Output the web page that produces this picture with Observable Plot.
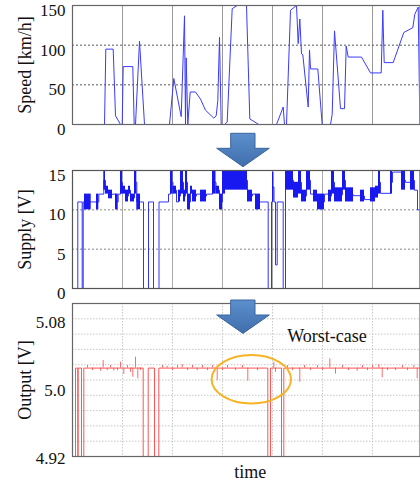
<!DOCTYPE html>
<html>
<head>
<meta charset="utf-8">
<script src="https://cdn.jsdelivr.net/npm/d3@7"></script>
<script src="https://cdn.jsdelivr.net/npm/@observablehq/plot@0.6"></script>
<style>
  html, body { margin: 0; padding: 0; background: #fff; }
  #wrap { position: relative; width: 420px; height: 485px; overflow: hidden; font-family: "Liberation Serif", serif; }
  #wrap > svg { position: absolute; left: 0; }
</style>
</head>
<body>
<div id="wrap"></div>
<script>
// ---------- shared time grid ----------
const timeDomain = [0, 347.5];
const gridTimes = [50, 100, 150, 200, 250, 300];

// ---------- Speed [km/h] ----------
const speedT = [0, 32, 33.3, 40.7, 43, 48, 49.7, 50.7, 60.3, 61.7, 63, 67, 72, 97, 101.3, 108.7, 112, 113, 113.7, 115.3,
  117.7, 123, 128, 133, 141.3, 143.7, 145.3, 147, 148.7, 152, 154.7, 159.7, 164.7, 174, 177.3, 186.3, 204, 210.7, 212,
  214, 218, 224, 225.7, 227.3, 229, 230.3, 235.7, 237, 238, 245.3, 249.7, 258, 259.7, 262, 268, 272, 273.7, 275.7,
  289, 298, 308.7, 310.3, 311.7, 320.7, 331.3, 340.3, 342.3, 345.7, 347.4];
const speedV = [0, 0, 95, 95, 11, 0, 0, 73, 73, 0, 0, 105, 0, 0, 58, 10, 137, 0, 84, 0,
  41, 41, 32, 18, 8, 11, 30, 110, 0, 0, 3, 146, 150, 150, 7, 0, 0, 22, 0,
  0, 144, 150, 102, 133, 89, 88, 22, 94, 70, 70, 0, 0, 13, 118, 20, 20, 99, 85,
  85, 65, 65, 144, 78, 78, 116, 122, 139, 148, 0];
const speedTicks = [0, 50, 100, 150];
const speedGrid = [50, 100];

// ---------- Supply [V] : segments (start, end, low, high) ----------
const supplyStart = [0, 5.3, 9.7, 10.7, 12, 18.7, 24, 26.3, 31.3, 33, 36, 40, 43, 45.7, 48, 50, 53, 56, 58, 62, 64.3,
  68, 71, 76, 81, 86.5, 96, 98, 100.5, 104, 106, 108, 111, 113, 115, 118, 120, 124, 128, 134, 140, 143.5, 147, 150,
  153, 175, 180, 183, 188, 195.7, 199, 200, 201.5, 203, 204.7, 210.7, 213, 221, 226, 229, 234, 238, 241, 245, 252,
  256, 259, 262, 270, 273, 281, 288, 292, 298, 303, 306, 308, 318, 320, 329, 333, 338, 342, 345];
const supplyEnd = [5.3, 9.7, 10.7, 12, 18.7, 24, 26.3, 31.3, 33, 36, 40, 43, 45.7, 48, 50, 53, 56, 58, 62, 64.3, 68,
  71, 76, 81, 86.5, 96, 98, 100.5, 104, 106, 108, 111, 113, 115, 118, 120, 124, 128, 134, 140, 143.5, 147, 150, 153,
  175, 180, 183, 188, 195.7, 199, 200, 201.5, 203, 204.7, 210.7, 213, 221, 226, 229, 234, 238, 241, 245, 252, 256,
  259, 262, 270, 273, 281, 288, 292, 298, 303, 306, 308, 318, 320, 329, 333, 338, 342, 345, 347.5];
const supplyLow = [0, 11, 0, 11, 10, 11, 10, 12, 12.5, 12, 11.4, 12, 10, 12, 12, 12, 11, 12, 11, 12, 10,
  11, 0, 11, 0, 11, 12, 12, 12, 11, 11, 12, 11, 12, 10, 12, 11, 12, 11, 12, 12, 12, 10, 12,
  12.5, 11, 12, 10, 11, 0, 11, 11, 11, 3, 11, 0, 12.5, 11.5, 12, 11, 12.5, 12, 11, 10, 12,
  11, 12, 11, 12.5, 11, 11.8, 11, 11.3, 11, 11.5, 12, 12.1, 12, 14.8, 12.5, 13.5, 12.5, 12.5, 10];
const supplyHigh = [0, 11, 0, 11, 12, 11, 12, 12, 15, 13, 12.5, 12, 12, 12, 15, 13, 12.5, 13, 12, 15, 12,
  11, 0, 11, 0, 11, 12, 15, 13, 11, 12.5, 15, 12.5, 15, 12, 13, 12.5, 12, 12.5, 12, 15, 13, 12, 15,
  15, 12.5, 12, 12, 11, 0, 11, 14.8, 11, 3, 11, 0, 15, 13.5, 15, 12.5, 15, 12, 12.5, 12, 12,
  12.5, 15, 12.8, 15, 12.8, 11.8, 12.5, 11.3, 12.8, 13, 15, 12.1, 15, 14.8, 15, 13.5, 15, 12.5, 10];
const supplyTicks = [0, 5, 10, 15];
const supplyGrid = [5, 10];

// ---------- Output [V] ----------
const outputLevel = 5.024;
const outputT = [0, 3, 5.3, 5.6, 9, 11.3, 70.7, 75.7, 82, 86.3, 195.3, 198, 209, 211.3, 347.5];
const outputV = [0, 5.024, 0, 5.024, 0, 5.024, 0, 5.024, 0, 5.024, 0, 5.024, 0, 5.024, 5.024];
const spikeT = [15, 20, 28, 30.7, 34.7, 38, 41.3, 45, 48, 51.3, 55, 58, 60.3, 63, 65.3, 68, 90, 94.7, 100, 105,
  109.7, 115, 120, 124.7, 130, 135, 140, 144.7, 150, 155, 163, 170, 175.3, 185, 201.3, 203, 215, 220, 227.3,
  232, 238, 245, 250, 257.3, 263, 270, 276, 284.7, 290, 295, 300, 306.3, 309.7, 315, 323, 330, 335, 341.3, 344.7];
const spikeV = [5.027, 5.021, 5.0204, 5.033, 5.021, 5.027, 5.0204, 5.021, 5.031, 5.0165, 5.027, 5.019, 5.0133,
  5.0368, 5.0114, 5.021, 5.027, 5.026, 5.021, 5.027, 5.0282, 5.021, 5.027, 5.021, 5.027, 5.021, 5.027, 5.0094,
  5.021, 5.027, 5.021, 5.027, 5.0086, 5.021, 5.031, 5.019, 5.027, 5.021, 5.0074, 5.027, 5.021, 5.027, 5.021,
  5.035, 5.017, 5.027, 5.021, 5.0204, 5.027, 5.021, 5.027, 5.0282, 5.0126, 5.021, 5.021, 5.027, 5.021, 5.027, 5.0114];
const outputDomain = [4.92, 5.10];
const outputTicks = [4.92, 5.0, 5.08];
const outputTickLabels = ["4.92", "5.0", "5.08"];
const outputGrid = [4.938, 4.956, 4.974, 4.992, 5.01, 5.028, 5.046, 5.064, 5.082];

// annotations
const noteText = "Worst-case";
const noteT = 254.5, noteV = 5.062;
const ringT = 179.3, ringV = 5.0104, ringRT = 39.7, ringRV = 0.0285;

// ---------- build ----------
const wrap = document.getElementById("wrap");
const baseStyle = { fontFamily: "Liberation Serif, serif", fontSize: "17px", color: "#111", background: "transparent", overflow: "visible" };

function yLabel(text) {
  return Plot.text([text], { frameAnchor: "left", dx: -47, rotate: -90, fontSize: 18, fill: "#111", textAnchor: "middle", lineAnchor: "middle" });
}
function yTicks(ticks, dy, fmt) {
  return Plot.text(ticks, { y: d => d, frameAnchor: "left", textAnchor: "end", dx: -7, dy, fontSize: 17, fill: "#111",
    text: fmt ? ((d, i) => fmt[i]) : (d => String(d)) });
}

// Panel 1: Speed
const speed = speedT.map((t, i) => ({ t, v: speedV[i] }));
const p1 = Plot.plot({
  width: 420, height: 131, marginLeft: 72, marginRight: 0.5, marginTop: 5, marginBottom: 7,
  style: baseStyle,
  x: { domain: timeDomain, axis: null },
  y: { domain: [0, 150], axis: null },
  marks: [
    Plot.ruleX(gridTimes, { stroke: "#999", strokeWidth: 1 }),
    Plot.ruleY(speedGrid, { stroke: "#555", strokeDasharray: "2,2", strokeWidth: 1 }),
    Plot.line(speed, { x: "t", y: "v", stroke: "#3a3aff", strokeWidth: 1, clip: true }),
    Plot.frame({ stroke: "#666", strokeWidth: 1.2 }),
    yTicks(speedTicks, 5),
    yLabel("Speed [km/h]")
  ]
});
p1.style.top = "0px";
wrap.appendChild(p1);

// Panel 2: Supply
const segs = supplyStart.map((s, i) => ({ start: s, end: supplyEnd[i], lo: supplyLow[i], hi: supplyHigh[i] }));
const supplyLine = segs.map(d => ({ t: d.start, v: (d.lo + d.hi) / 2 }));
supplyLine.push({ t: segs[segs.length - 1].end, v: supplyLine[supplyLine.length - 1].v });
const p2 = Plot.plot({
  width: 420, height: 135, marginLeft: 72, marginRight: 0.5, marginTop: 10, marginBottom: 7,
  style: baseStyle,
  x: { domain: timeDomain, axis: null },
  y: { domain: [0, 15], axis: null },
  marks: [
    Plot.ruleX(gridTimes, { stroke: "#aaa", strokeWidth: 1 }),
    Plot.ruleY(supplyGrid, { stroke: "#888", strokeDasharray: "2,2", strokeWidth: 1 }),
    Plot.line(supplyLine, { x: "t", y: "v", curve: "step-after", stroke: "#3333ff", strokeWidth: 1, clip: true }),
    Plot.rect(segs.filter(d => d.hi > d.lo), { x1: "start", x2: "end", y1: "lo", y2: "hi", fill: "#1818f0", clip: true }),
    Plot.frame({ stroke: "#555", strokeWidth: 1.2 }),
    yTicks(supplyTicks, 5),
    yLabel("Supply [V]")
  ]
});
p2.style.top = "160px";
wrap.appendChild(p2);

// Panel 3: Output
const outLine = outputT.map((t, i) => ({ t, v: outputV[i] }));
const spikes = spikeT.map((t, i) => ({ t, v: spikeV[i] }));
function ringMark(index, scales) {
  const e = document.createElementNS("http://www.w3.org/2000/svg", "ellipse");
  const cx = scales.x(ringT), cy = scales.y(ringV);
  e.setAttribute("cx", cx);
  e.setAttribute("cy", cy);
  e.setAttribute("rx", Math.abs(scales.x(ringT + ringRT) - cx));
  e.setAttribute("ry", Math.abs(scales.y(ringV + ringRV) - cy));
  e.setAttribute("fill", "none");
  e.setAttribute("stroke", "#f6b324");
  e.setAttribute("stroke-width", 2);
  return e;
}
const p3 = Plot.plot({
  width: 420, height: 195, marginLeft: 72, marginRight: 0.5, marginTop: 13, marginBottom: 29,
  style: baseStyle,
  x: { domain: timeDomain, axis: null },
  y: { domain: outputDomain, axis: null },
  marks: [
    Plot.ruleX(gridTimes, { stroke: "#c8c8c8", strokeDasharray: "1.5,1.5", strokeWidth: 1 }),
    Plot.ruleY(outputGrid, { stroke: "#c8c8c8", strokeDasharray: "1.5,1.5", strokeWidth: 1 }),
    Plot.ruleX(spikes, { x: "t", y1: outputLevel, y2: "v", stroke: "#ff6a6a", strokeWidth: 1 }),
    Plot.line(outLine, { x: "t", y: "v", curve: "step-after", stroke: "#ff5555", strokeWidth: 1, clip: true }),
    Plot.frame({ stroke: "#666", strokeWidth: 1.2 }),
    yTicks(outputTicks, 2, outputTickLabels),
    yLabel("Output [V]"),
    Plot.text(["time"], { frameAnchor: "bottom", dx: 4, dy: 16, fontSize: 18, fill: "#111", lineAnchor: "middle" }),
    Plot.text([noteText], { x: noteT, y: noteV, fontSize: 18, fill: "#111" }),
    ringMark
  ]
});
p3.style.top = "290px";
wrap.appendChild(p3);

// Block arrows between panels (overlay)
const ns = "http://www.w3.org/2000/svg";
const ov = document.createElementNS(ns, "svg");
ov.setAttribute("width", 420); ov.setAttribute("height", 485);
ov.style.position = "absolute"; ov.style.top = "0px"; ov.style.left = "0px";
ov.innerHTML = `<defs><linearGradient id="ag" x1="0" y1="0" x2="0" y2="1">
  <stop offset="0" stop-color="#5d8fce"/><stop offset="1" stop-color="#3f6eab"/></linearGradient></defs>`;
function arrow(top) {
  const p = document.createElementNS(ns, "polygon");
  const pts = [[230.7, top], [255, top], [255, top + 15], [269.3, top + 15], [243, top + 33.4], [216.7, top + 15], [230.7, top + 15]];
  p.setAttribute("points", pts.map(d => d.join(",")).join(" "));
  p.setAttribute("fill", "url(#ag)");
  p.setAttribute("stroke", "#3a649c");
  p.setAttribute("stroke-width", 1);
  ov.appendChild(p);
}
arrow(133.3);
arrow(300);
wrap.appendChild(ov);
</script>
</body>
</html>
